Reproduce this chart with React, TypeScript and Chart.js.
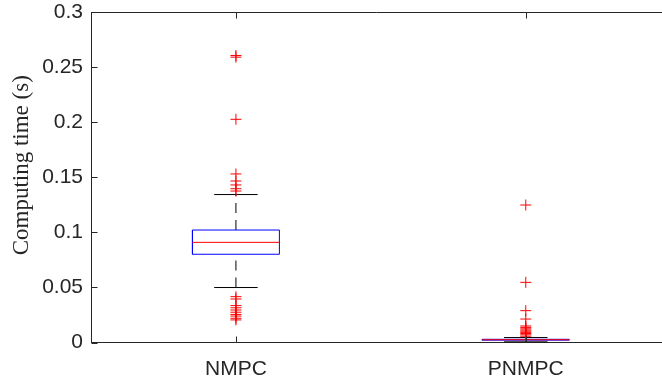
import React, { useEffect, useRef } from "react";
import { Chart, registerables } from "chart.js";

Chart.register(...registerables);

// ---- data ----
const categories = ["NMPC", "PNMPC"];
const q1 = [0.0801, 0.0021];
const median = [0.0909, 0.0025];
const q3 = [0.1021, 0.0029];
const lowerWhisker = [0.0499, 0.0006];
const upperWhisker = [0.1343, 0.0045];
const outliersNMPC = [
  0.2605, 0.259, 0.2026, 0.153, 0.1466, 0.143, 0.1396, 0.1375,
  0.0416, 0.0395, 0.0335, 0.0315, 0.0295, 0.0275, 0.0255, 0.024, 0.022, 0.0205,
];
const outliersPNMPC = [
  0.1248, 0.0546, 0.0289, 0.0213, 0.015, 0.0137, 0.0124, 0.0113, 0.0103, 0.0092,
  0.0082, 0.007, 0.0057,
];
const yTicks = [0, 0.05, 0.1, 0.15, 0.2, 0.25, 0.3];
const yTitle = "Computing time (s)";

const BOX_HALF = 0.15;
const CAP_HALF = 0.075;
const AXIS_COLOR = "#262626";

const framePlugin = {
  id: "matlabFrame",
  afterDraw(chart: any) {
    const { ctx, chartArea: a, scales } = chart;
    const L = Math.round(a.left) + 0.5;
    const R = Math.round(a.right);
    const T = Math.round(a.top) + 0.5;
    const B = Math.round(a.bottom) - 0.5;
    const tl = 6;
    ctx.save();
    ctx.strokeStyle = AXIS_COLOR;
    ctx.lineWidth = 1;
    ctx.beginPath();
    ctx.moveTo(L, T);
    ctx.lineTo(R, T);
    yTicks.forEach((v) => {
      const py = Math.round(scales.y.getPixelForValue(v)) + 0.5;
      ctx.moveTo(L, py);
      ctx.lineTo(L + tl, py);
    });
    categories.forEach((_, i) => {
      const px = Math.round(scales.x.getPixelForValue(i + 1)) + 0.5;
      ctx.moveTo(px, B);
      ctx.lineTo(px, B - tl);
      ctx.moveTo(px, T);
      ctx.lineTo(px, T + tl);
    });
    ctx.stroke();

    // y-axis title (serif, LaTeX-like)
    ctx.save();
    ctx.translate(22, (a.top + a.bottom) / 2 - 12);
    ctx.rotate(-Math.PI / 2);
    ctx.fillStyle = AXIS_COLOR;
    ctx.font = '23px "Liberation Serif"';
    ctx.textAlign = "center";
    ctx.textBaseline = "middle";
    ctx.fillText(yTitle, 0, 0);
    ctx.restore();
    ctx.restore();
  },
};

function seg(points: { x: number; y: number }[], color: string, order: number, dash: number[] = []) {
  return {
    type: "line" as const,
    data: points,
    borderColor: color,
    borderWidth: 1,
    borderDash: dash,
    pointRadius: 0,
    fill: false,
    tension: 0,
    order,
  };
}

export default function App() {
  const ref = useRef<HTMLCanvasElement>(null);

  useEffect(() => {
    if (!ref.current) return;
    const datasets: any[] = [];
    categories.forEach((_, i) => {
      const c = i + 1;
      const outs = i === 0 ? outliersNMPC : outliersPNMPC;
      datasets.push({
        type: "scatter",
        data: outs.map((v) => ({ x: c, y: v })),
        pointStyle: "cross",
        pointRadius: 5.5,
        pointBorderColor: "#ff0000",
        pointBorderWidth: 1,
        borderColor: "#ff0000",
        backgroundColor: "#ff0000",
        showLine: false,
        order: 0,
      });
      datasets.push(
        seg(
          [
            { x: c - BOX_HALF, y: median[i] },
            { x: c + BOX_HALF, y: median[i] },
          ],
          "#ff0000",
          1
        )
      );
      datasets.push(
        seg(
          [
            { x: c - BOX_HALF, y: q1[i] },
            { x: c + BOX_HALF, y: q1[i] },
            { x: c + BOX_HALF, y: q3[i] },
            { x: c - BOX_HALF, y: q3[i] },
            { x: c - BOX_HALF, y: q1[i] },
          ],
          "#0000ff",
          2
        )
      );
      datasets.push(
        seg(
          [
            { x: c, y: q3[i] },
            { x: c, y: upperWhisker[i] },
          ],
          "#000000",
          3,
          [10, 7]
        )
      );
      datasets.push(
        seg(
          [
            { x: c, y: lowerWhisker[i] },
            { x: c, y: q1[i] },
          ],
          "#000000",
          3,
          [10, 7]
        )
      );
      datasets.push(
        seg(
          [
            { x: c - CAP_HALF, y: upperWhisker[i] },
            { x: c + CAP_HALF, y: upperWhisker[i] },
          ],
          "#000000",
          3
        )
      );
      datasets.push(
        seg(
          [
            { x: c - CAP_HALF, y: lowerWhisker[i] },
            { x: c + CAP_HALF, y: lowerWhisker[i] },
          ],
          "#000000",
          3
        )
      );
    });

    const chart = new Chart(ref.current, {
      type: "line",
      data: { datasets },
      plugins: [framePlugin],
      options: {
        responsive: false,
        animation: false,
        events: [],
        layout: { autoPadding: false, padding: { left: 0, right: 0, top: 12, bottom: 0 } },
        plugins: { legend: { display: false }, tooltip: { enabled: false } },
        scales: {
          x: {
            type: "linear",
            min: 0.5,
            max: 2.47,
            position: "bottom",
            afterBuildTicks: (scale: any) => {
              scale.ticks = categories.map((_, i) => ({ value: i + 1 }));
            },
            afterFit: (scale: any) => {
              scale.height = 37.5;
              scale.paddingLeft = 0;
              scale.paddingRight = 0;
            },
            ticks: {
              autoSkip: false,
              maxRotation: 0,
              padding: 14,
              color: AXIS_COLOR,
              font: { family: "Liberation Sans", size: 21 },
              callback: (v: any) => categories[Math.round(Number(v)) - 1] ?? "",
            },
            grid: { display: false, drawTicks: false },
            border: { display: true, color: AXIS_COLOR, width: 1 },
          },
          y: {
            type: "linear",
            min: 0,
            max: 0.3,
            afterBuildTicks: (scale: any) => {
              scale.ticks = yTicks.map((v) => ({ value: v }));
            },
            afterFit: (scale: any) => {
              scale.width = 91;
              scale.paddingTop = 0;
              scale.paddingBottom = 0;
            },
            ticks: {
              padding: 8,
              color: AXIS_COLOR,
              font: { family: "Liberation Sans", size: 21 },
              callback: (v: any) => String(Number(Number(v).toFixed(2))),
            },
            grid: { display: false, drawTicks: false },
            border: { display: true, color: AXIS_COLOR, width: 1 },
          },
        },
      },
    } as any);
    return () => chart.destroy();
  }, []);

  return (
    <div
      style={{
        position: "absolute",
        left: 0,
        top: 0,
        width: 662,
        height: 380,
        overflow: "hidden",
        background: "#ffffff",
      }}
    >
      <canvas ref={ref} width={662} height={380} style={{ display: "block" }} />
    </div>
  );
}
